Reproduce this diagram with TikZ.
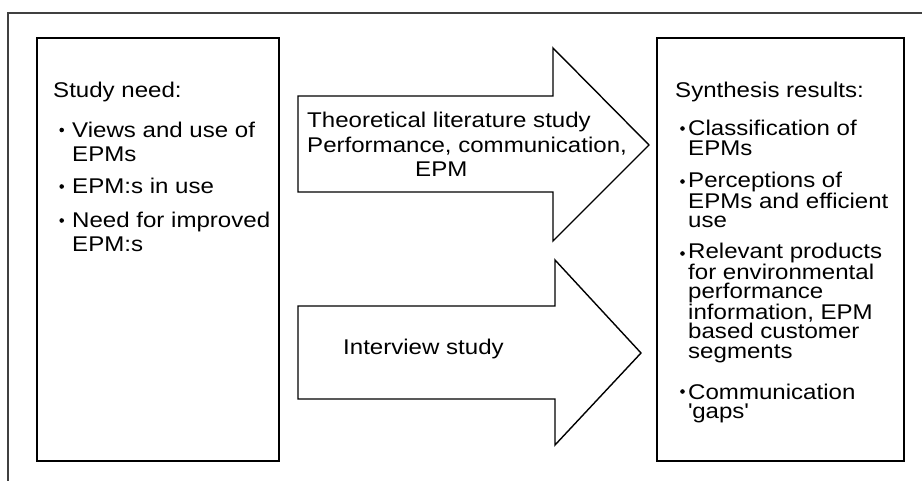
\documentclass[tikz,border=0pt]{standalone}
\usepackage{fontspec}
\setmainfont{Liberation Sans}[FakeStretch=1.13]
\usetikzlibrary{positioning}

\begin{document}
\begin{tikzpicture}[x=1pt,y=-1pt,
    every node/.style={inner sep=0pt, anchor=base west, align=left},
    wide/.style={font=\fontsize{21.3}{24}\selectfont},
    tight/.style={font=\fontsize{21.3}{19.5}\selectfont},
    frame/.style={draw=black!75, line width=1.4pt},
    box/.style={draw, line width=1.7pt},
    bigarrow/.style={draw, line width=1.4pt, line join=miter},
    dot/.style={circle, fill, inner sep=0pt, minimum size=4.6pt, anchor=center}]
  \useasboundingbox (0,0) rectangle (922,481);
  % outer frame, cut at right and bottom
  \draw[frame] (8,481) -- (8,13) -- (922,13);
  % the two boxes
  \draw[box] (37,38) rectangle (279,461);
  \draw[box] (657,38) rectangle (904,461);
  % arrows
  \draw[bigarrow] (298,96) -- (553,96) -- (553,48) -- (649,145) -- (553,241)
    -- (553,192) -- (298,192) -- cycle;
  \draw[bigarrow] (298,306) -- (555,306) -- (555,260) -- (641,353) -- (555,445)
    -- (555,399) -- (298,399) -- cycle;

  % study need (base = last line)
  \node[wide] (need) at (53,98) {Study need:};
  \node[wide] (n1) at (72,161.5) {Views and use of\\EPMs};
  \node[wide] (n2) at (72,194) {EPM:s in use};
  \node[wide] (n3) at (72,252) {Need for improved\\EPM:s};
  \foreach \y in {137.5, 194, 228}
    \node[dot] at (61.7,\y-7.5) {};

  % arrow texts
  \node[font=\fontsize{21.3}{24.5}\selectfont] (lit) at (307,177)
    {Theoretical literature study\\Performance, communication,\\\hspace*{108pt}EPM};
  \node[wide] (inter) at (343,355) {Interview study};

  % synthesis results
  \node[wide] (synth) at (675,98) {Synthesis results:};
  \node[tight] (r1) at (688,155.5) {Classification of\\EPMs};
  \node[tight] (r2) at (688,228) {Perceptions of\\EPMs and efficient\\use};
  \node[tight] (r3) at (688,358.5) {Relevant products\\for environmental\\performance\\
    information, EPM\\based customer\\segments};
  \node[tight] (r4) at (688,418.5) {Communication\\\textquotesingle gaps\textquotesingle};
  \foreach \y in {136, 189, 261, 399}
    \node[dot] at (682.5,\y-7.5) {};
\end{tikzpicture}
\end{document}
